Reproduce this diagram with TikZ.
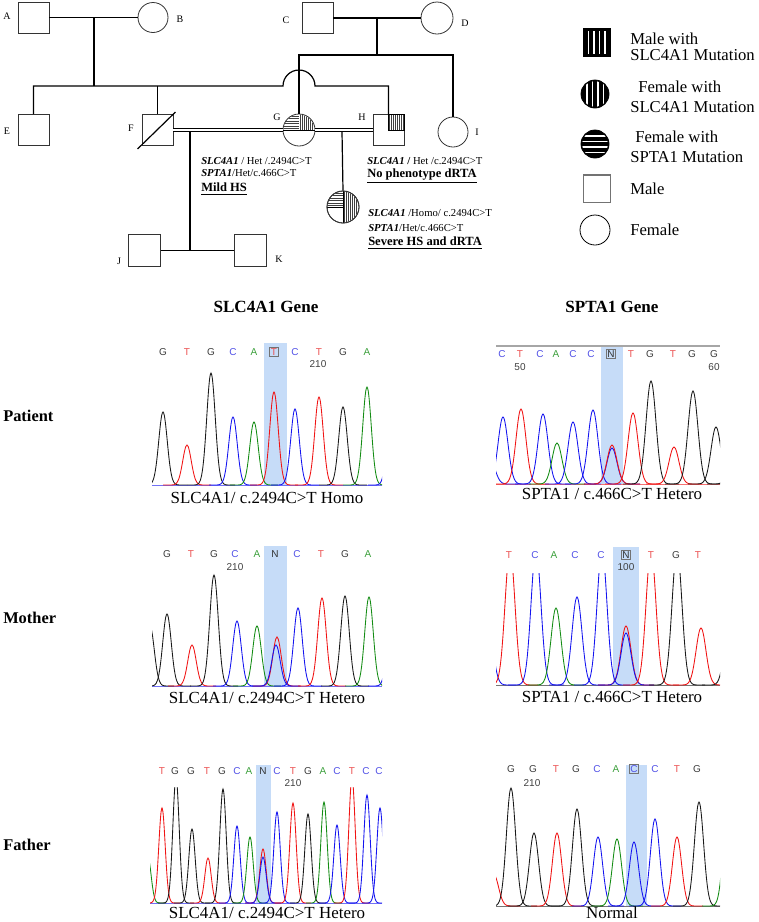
\documentclass[tikz,border=0pt]{standalone}
\usepackage{fontspec}
\setmainfont{Liberation Serif}
\newfontfamily\seqfont{Liberation Sans}
\usetikzlibrary{calc}

\definecolor{hilite}{RGB}{198,220,248}
\definecolor{colG}{RGB}{60,60,60}
\definecolor{colT}{RGB}{235,80,80}
\definecolor{colC}{RGB}{80,80,230}
\definecolor{colA}{RGB}{60,160,60}
\definecolor{colN}{RGB}{50,50,50}
\definecolor{trR}{RGB}{240,20,20}
\definecolor{trB}{RGB}{20,20,240}
\definecolor{trG}{RGB}{20,140,20}
\definecolor{trK}{RGB}{25,25,25}

% one peak of a trace: colour, position, height
\def\pksig{6}
\newcommand{\pk}[3]{\draw[color=#1, trace] plot[domain=#2-4*\pksig:#2+4*\pksig, samples=41, smooth] (\x,{-(#3)*exp(-((\x-(#2))/\pksig)^2)});}

\begin{document}
\begin{tikzpicture}[x=0.75pt, y=-0.75pt,
  male/.style={draw=black!80, rectangle, minimum size=23.25pt, inner sep=0pt, line width=0.6pt},
  female/.style={draw=black!80, circle, minimum size=23.25pt, inner sep=0pt, line width=0.6pt},
  ped/.style={line width=0.9pt},
  dbl/.style={line width=0.7pt, double, double distance=1.8pt},
  stripe/.style={black!75, line width=0.55pt},
  lbl/.style={font=\fontsize{7.5}{9}\selectfont, inner sep=0pt},
  gtxt/.style={font=\fontsize{8}{9.6}\selectfont, anchor=west, inner sep=0pt},
  gbig/.style={font=\fontsize{9.4}{11}\selectfont\bfseries, anchor=west, inner sep=0pt},
  legtxt/.style={anchor=west, inner sep=0pt, align=left},
  hdr/.style={font=\fontsize{12.8}{15}\selectfont\bfseries},
  rowtxt/.style={font=\fontsize{12.3}{15}\selectfont\bfseries, anchor=west, inner sep=0pt},
  captxt/.style={font=\fontsize{12.7}{15}\selectfont, inner sep=0pt},
  base/.style={font=\seqfont\fontsize{7.5}{9}\selectfont, text=col#1, inner sep=0.9pt},
  num/.style={font=\seqfont\fontsize{7.5}{9}\selectfont, text=black!75, inner sep=0pt},
  mut/.style={draw=black!55, line width=0.6pt},
  trace/.style={line width=0.65pt}]
\useasboundingbox (0,0) rectangle (758,922);

% pedigree
\node[male] (A) at (33.5,17.5) {};
\node[female, minimum size=22.5pt] (B) at (153,17.5) {};
\node[male] (C) at (317.5,18) {};
\node[female, minimum size=24pt] (D) at (437,18) {};
\node[male] (E) at (33.5,130) {};
\node[male] (F) at (157.5,130) {};
\node[female, minimum size=24pt] (G) at (299,130) {};
\node[male] (H) at (388.5,130) {};
\node[female, minimum size=22.5pt] (I) at (453,132) {};
\node[male, minimum size=24pt] (J) at (144.5,250.5) {};
\node[male, minimum size=24pt] (K) at (250,250.5) {};
\node[female, minimum size=24pt] (P) at (343,207) {};

\node[lbl] (lA) at (7,16) {A};
\node[lbl] (lB) at (180,19) {B};
\node[lbl] (lC) at (286,20) {C};
\node[lbl] (lD) at (465,23) {D};
\node[lbl] (lE) at (7,131) {E};
\node[lbl] (lF) at (131,128) {F};
\node[lbl] (lG) at (277,117) {G};
\node[lbl] (lH) at (362,117) {H};
\node[lbl] (lI) at (477,132) {I};
\node[lbl] (lJ) at (119,261) {J};
\node[lbl] (lK) at (279,259) {K};

\coordinate (ab) at (94,17.5);
\coordinate (hl) at (283,86);
\coordinate (cd) at (377,18);
\coordinate (cds) at (377,55);
\coordinate (fg) at (190,131.5);
\coordinate (gh) at (342,131.5);

\draw[ped] (A) -- (B);
\draw[ped] (ab) -- (ab |- hl);
\draw[ped] (E.north) |- (hl) arc[start angle=180, end angle=360, radius=16] -- (H.north |- hl) -- (H.north);
\draw[ped] (F.north) -- (F.north |- hl);
\draw[ped] (C) -- (D);
\draw[ped] (cd) -- (cds);
\draw[ped] (G.north) |- (I.north |- cds) -- (I.north);
\draw[dbl] (F.east) -- (G.west);
\draw[dbl] (G.east) -- (H.west);
\draw[ped] (fg) -- (fg |- J);
\draw[ped] (J) -- (K);
\draw[ped] (gh) -- (P.north);
\draw[ped] ($(F.south west)+(-4,3)$) -- ($(F.north east)+(2,-2)$);

% shaded parts of G, H and the patient
\begin{scope}
  \clip (G.center) circle[radius=15.5];
  \clip (G.center) rectangle ++(-16,-16);
  \foreach \d in {1.5,4,...,16} \draw[stripe] ($(G.center)+(-16,-\d)$) -- ++(16,0);
\end{scope}
\begin{scope}
  \clip (G.center) circle[radius=15.5];
  \clip (G.center) rectangle ++(16,-16);
  \foreach \d in {1.5,3.5,...,16} \draw[stripe] ($(G.center)+(\d,0)$) -- ++(0,-16);
\end{scope}
\draw[line width=0.6pt] (G.west) -- (G.east);
\begin{scope}
  \clip (H.center) rectangle (H.north east);
  \foreach \d in {1,3,...,16} \draw[stripe] ($(H.center)+(\d,0)$) -- ++(0,-16);
\end{scope}
\draw[line width=0.6pt] (H.center) rectangle (H.north east);
\begin{scope}
  \clip (P.center) circle[radius=15.5];
  \clip (P.center) rectangle ++(-16,-16);
  \foreach \d in {1.5,4,...,16} \draw[stripe] ($(P.center)+(-16,-\d)$) -- ++(16,0);
\end{scope}
\begin{scope}
  \clip (P.center) circle[radius=15.5];
  \clip ($(P.center)+(0,-16)$) rectangle ++(16,32);
  \foreach \d in {1.5,3.5,...,16} \draw[stripe] ($(P.center)+(\d,-16)$) -- ++(0,32);
\end{scope}
\draw[line width=0.6pt] (P.north) -- (P.south) (P.west) -- (P.center);
\node[female, minimum size=24pt] (P2) at (P) {};

% genotypes
\node[gtxt] (gF1) at (201,161) {\textbf{\textit{SLC4A1}} / Het /.2494C>T};
\node[gtxt] (gF2) at (201,173) {\textbf{\textit{SPTA1}}/Het/c.466C>T};
\node[gbig] (gF3) at (201,189) {\underline{Mild HS}};
\node[gtxt] (gH1) at (367,161) {\textbf{\textit{SLC4A1} /} Het /c.2494C>T};
\node[gbig] (gH2) at (367,176) {\underline{No phenotype dRTA}};
\node[gtxt] (gP1) at (368,213) {\textbf{\textit{SLC4A1}} /Homo/ c.2494C>T};
\node[gtxt] (gP2) at (368,228) {\textbf{\textit{SPTA1}}/Het/c.466C>T};
\node[gbig] (gP3) at (368,243) {\underline{Severe HS and dRTA}};

% legend
\node[male, draw=black, fill=black, minimum size=20.5pt] (lg1) at (597,42.5) {};
\foreach \d in {588.5,594,599.5,605} \draw[white, line width=1.3pt] (\d,31) -- (\d,54);
\node[female, draw=black, fill=black, minimum size=21pt] (lg2) at (595,94) {};
\begin{scope}
  \clip (lg2.center) circle[radius=13];
  \foreach \d in {587,592.5,598,603.5} \draw[white, line width=1.3pt] (\d,80) -- (\d,108);
\end{scope}
\node[female, draw=black, fill=black, minimum size=21pt] (lg3) at (595,144) {};
\begin{scope}
  \clip (lg3.center) circle[radius=13];
  \foreach \d in {136,141.5,147,152.5} \draw[white, line width=1.3pt] (580,\d) -- (610,\d);
\end{scope}
\node[male, draw=black!55, line width=1pt, minimum size=20.5pt] (lg4) at (597,188.5) {};
\node[female, draw=black, minimum size=22.5pt] (lg5) at (595,230) {};
\node[legtxt, font=\fontsize{12.5}{12}\selectfont] (lt1) at (630,47) {Male with\\SLC4A1 Mutation};
\node[legtxt, font=\fontsize{12.5}{15}\selectfont] (lt2) at (630,97) {\hspace*{6pt}Female with\\SLC4A1 Mutation};
\node[legtxt, font=\fontsize{12.5}{15}\selectfont] (lt3) at (630,147) {\hspace*{3.75pt}Female with\\SPTA1 Mutation};
\node[legtxt, font=\fontsize{12.5}{15}\selectfont] (lt4) at (630,189) {Male};
\node[legtxt, font=\fontsize{12.5}{15}\selectfont] (lt5) at (630,230) {Female};

% chromatograms
\node[hdr] (hd1) at (266,307) {SLC4A1 Gene};
\node[hdr] (hd2) at (612,307) {SPTA1 Gene};
\node[rowtxt] (rw1) at (3,416) {Patient};
\node[rowtxt] (rw2) at (3,618) {Mother};
\node[rowtxt] (rw3) at (3,845) {Father};

% patient, SLC4A1
\fill[hilite] (264,343) rectangle (287,485);
\begin{scope}[shift={(0,485)}]
  \clip (152,-142) rectangle (382,2);
  \draw[trace, trB!60] (152,0) -- (382,0);
  \foreach \cl/\ps/\hh in {trK/163/73, trR/187/40, trK/211/112, trB/233/68, trG/254/63, trR/274/93,
    trB/295/76, trR/319/88, trK/343/78, trG/367/98, trB/392/95} {\pk{\cl}{\ps}{\hh}}
\end{scope}
\foreach \ps/\b in {163/G,187/T,211/G,233/C,254/A,295/C,319/T,343/G,367/A} \node[base=\b] (a\ps) at (\ps,352) {\b};
\node[base=T, mut] (amut) at (274,352) {T};
\node[num] (anum) at (318,364) {210};
\node[captxt] (acap) at (267,498) {SLC4A1/ c.2494C>T Homo};

% patient, SPTA1
\fill[hilite] (601,346) rectangle (623,484);
\draw[black!35, line width=1pt] (496,346) -- (720,346);
\begin{scope}[shift={(0,484)}]
  \def\pksig{7}
  \clip (496,-136) rectangle (720,2);
  \draw[trace, trR!60] (496,0) -- (720,0);
  \foreach \cl/\ps/\hh in {trB/490/25, trB/503/67, trR/521/75, trB/543/70, trG/557/41, trB/573/62, trB/593/74,
    trB/612/36, trR/612/39, trR/633/71, trK/651/103, trR/674/37, trK/693/93, trK/716/57, trK/735/80} {\pk{\cl}{\ps}{\hh}}
\end{scope}
\foreach \ps/\b in {502/C,520/T,540/C,556/A,573/C,591/C,631/T,650/G,673/T,692/G,714/G} \node[base=\b] (b\ps) at (\ps,354) {\b};
\node[base=N, mut] (bmut) at (611,354) {N};
\node[num] (bnum1) at (520,367) {50};
\node[num] (bnum2) at (714,367) {60};
\node[captxt] (bcap) at (612,494) {SPTA1 / c.466C>T Hetero};

% mother, SLC4A1
\fill[hilite] (264,546) rectangle (287,686);
\begin{scope}[shift={(0,686)}]
  \clip (152,-142) rectangle (382,2);
  \draw[trace, trB!60] (152,0) -- (382,0);
  \foreach \cl/\ps/\hh in {trK/150/60, trK/167/72, trR/192/41, trK/214/111, trB/237/65, trG/257/60, trR/277/49,
    trB/276/41, trB/298/78, trR/322/88, trK/345/90, trG/369/89, trB/392/85} {\pk{\cl}{\ps}{\hh}}
\end{scope}
\foreach \ps/\b in {167/G,191/T,214/G,235/C,257/A,275/N,297/C,321/T,345/G,368/A} \node[base=\b] (c\ps) at (\ps,554) {\b};
\node[num] (cnum) at (235,567) {210};
\node[captxt] (ccap) at (267,698) {SLC4A1/ c.2494C>T Hetero};

% mother, SPTA1
\fill[hilite] (613,547) rectangle (639,685);
\begin{scope}[shift={(0,685)}]
  \def\pksig{7}
  \clip (496,-112) rectangle (720,2);
  \draw[trace, trK!60] (496,0) -- (720,0);
  \foreach \cl/\ps/\hh in {trB/488/60, trR/510/135, trB/536/135, trG/556/77, trB/577/88, trB/602/135, trR/626/59,
    trB/626/52, trR/651/135, trK/677/135, trR/701/57, trK/730/75} {\pk{\cl}{\ps}{\hh}}
\end{scope}
\foreach \ps/\b in {509/T,535/C,554/A,575/C,601/C,651/T,676/G,698/T} \node[base=\b] (d\ps) at (\ps,555) {\b};
\node[base=N, mut] (dmut) at (626,555) {N};
\node[num] (dnum) at (626,567) {100};
\node[captxt] (dcap) at (612,697) {SPTA1 / c.466C>T Hetero};

% father, SLC4A1
\fill[hilite] (256,765) rectangle (271,903);
\begin{scope}[shift={(0,903)}]
  \def\pksig{4.5}
  \clip (150,-116) rectangle (382,2);
  \draw[trace, trB!60] (150,0) -- (382,0);
  \foreach \cl/\ps/\hh in {trG/148/45, trR/162/95, trK/176/125, trK/192/74, trR/208/45, trK/223/114, trB/237/77,
    trG/250/66, trR/263/54, trB/263/46, trB/277/91, trR/293/100, trK/308/89, trG/324/101, trB/337/78,
    trR/352/125, trB/367/108, trB/380/95} {\pk{\cl}{\ps}{\hh}}
\end{scope}
\foreach \ps/\b in {162/T,175/G,191/G,207/T,222/G,237/C,249/A,263/N,277/C,293/T,308/G,323/A,337/C,352/T,366/C,379/C}
  \node[base=\b] (e\ps) at (\ps,771) {\b};
\node[num] (enum) at (293,783) {210};
\node[captxt] (ecap) at (267,913) {SLC4A1/ c.2494C>T Hetero};

% father, SPTA1
\fill[hilite] (626,765) rectangle (647,906);
\begin{scope}[shift={(0,906)}]
  \def\pksig{6.5}
  \clip (496,-130) rectangle (720,2);
  \draw[trace, trK!60] (496,0) -- (720,0);
  \foreach \cl/\ps/\hh in {trR/494/31, trK/511/118, trK/534/73, trR/557/73, trK/577/97, trB/598/69, trG/617/67,
    trB/634/64, trB/655/87, trR/677/69, trK/699/104, trG/728/100} {\pk{\cl}{\ps}{\hh}}
\end{scope}
\foreach \ps/\b in {511/G,533/G,556/T,576/G,597/C,616/A,655/C,677/T,697/G} \node[base=\b] (f\ps) at (\ps,769) {\b};
\node[base=C, mut] (fmut) at (634,769) {C};
\node[num] (fnum) at (532,783) {210};
\node[captxt] (fcap) at (612,913) {Normal};
\end{tikzpicture}
\end{document}
